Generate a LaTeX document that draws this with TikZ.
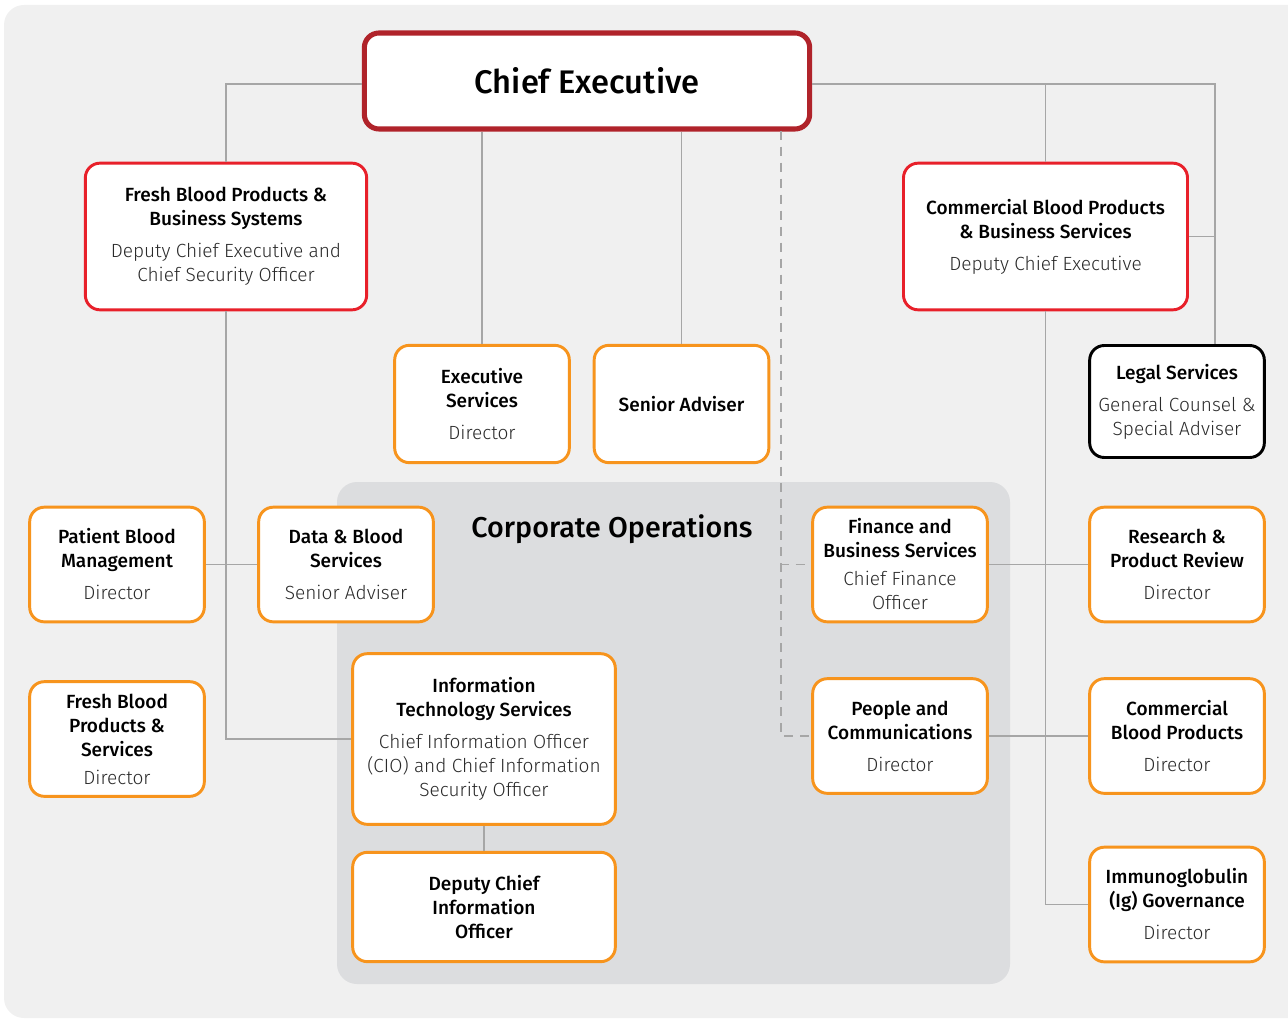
\documentclass[tikz,border=0pt]{standalone}
\usepackage{fontspec}
\setmainfont{Fira Sans}[BoldFont={Fira Sans Medium}]
\newfontfamily\lightfont{Fira Sans Light}
\usetikzlibrary{positioning}
\definecolor{ceored}{HTML}{B0232A}
\definecolor{deputyred}{HTML}{E8202A}
\definecolor{dirorange}{HTML}{F7941D}
\definecolor{linegray}{HTML}{A6A6A6}
\definecolor{panelgray}{HTML}{DCDDDF}
\definecolor{bggray}{HTML}{F0F0F0}
\definecolor{subtext}{HTML}{2A2A2A}

\begin{document}
\begin{tikzpicture}[
    x=0.75pt, y=-0.75pt,
    link/.style={draw=linegray, line width=0.9pt},
    dashlink/.style={link, dash pattern=on 7pt off 5pt},
    unit/.style={fill=white, rounded corners=11pt, align=center, inner sep=2pt,
        line width=2.2pt, font=\fontsize{14.3}{18}\selectfont},
    execbox/.style={unit, draw=ceored, line width=3.8pt},
    deputybox/.style={unit, draw=deputyred},
    dirbox/.style={unit, draw=dirorange},
    legalbox/.style={unit, draw=black},
    small/.style={minimum width=131pt, minimum height=86pt},
    wide/.style={minimum width=197pt},
    paneltitle/.style={font=\fontsize{21.5}{26}\selectfont\bfseries}
]

\useasboundingbox (0,0) rectangle (1288,1019);
\fill[bggray, rounded corners=15pt] (4,5) rectangle (1310,1018);
\fill[panelgray, rounded corners=15pt] (337,482) rectangle (1010,984);

\node[execbox, minimum width=334pt, minimum height=72pt,
    font=\fontsize{24.5}{30}\selectfont\bfseries] (chief) at (587,81) {Chief Executive};

\node[deputybox, minimum width=211pt, minimum height=110pt] (fbbs) at (226,236.5)
    {\bfseries Fresh Blood Products \&\\\bfseries Business Systems\\[6pt]
     {\lightfont\color{subtext}Deputy Chief Executive and}\\{\lightfont\color{subtext}Chief Security Officer}};
\node[deputybox, minimum width=213pt, minimum height=110pt] (cbpbs) at (1045.5,236.5)
    {\bfseries Commercial Blood Products\\\bfseries\& Business Services\\[6pt]
     {\lightfont\color{subtext}Deputy Chief Executive}};

\node[dirbox, small, minimum height=88pt] (execsvc) at (482,404)
    {\bfseries Executive\\\bfseries Services\\[6pt]{\lightfont\color{subtext}Director}};
\node[dirbox, small, minimum height=88pt] (senior) at (681.5,404) {\bfseries Senior Adviser};
\node[legalbox, small, minimum height=84pt] (legal) at (1177,401.5)
    {\bfseries Legal Services\\[6pt]{\lightfont\color{subtext}General Counsel \&}\\{\lightfont\color{subtext}Special Adviser}};

\node[paneltitle] (corptitle) at (612,529) {Corporate Operations};

\node[dirbox, small] (pbm) at (117,564.5)
    {\bfseries Patient Blood\\\bfseries Management\\[6pt]{\lightfont\color{subtext}Director}};
\node[dirbox, small] (datablood) at (346,564.5)
    {\bfseries Data \& Blood\\\bfseries Services\\[6pt]{\lightfont\color{subtext}Senior Adviser}};
\node[dirbox, small] (finance) at (900,564.5)
    {\bfseries Finance and\\\bfseries Business Services\\[3pt]{\lightfont\color{subtext}Chief Finance}\\{\lightfont\color{subtext}Officer}};
\node[dirbox, small] (research) at (1177,564.5)
    {\bfseries Research \&\\\bfseries Product Review\\[6pt]{\lightfont\color{subtext}Director}};

\node[dirbox, small] (fbps) at (117,739)
    {\bfseries Fresh Blood\\\bfseries Products \&\\\bfseries Services\\[3pt]{\lightfont\color{subtext}Director}};
\node[dirbox, wide, minimum height=128pt] (itsvc) at (484,739)
    {\bfseries Information\\\bfseries Technology Services\\[6pt]
     {\lightfont\color{subtext}Chief Information Officer}\\{\lightfont\color{subtext}(CIO) and Chief Information}\\{\lightfont\color{subtext}Security Officer}};
\node[dirbox, small] (people) at (900,736)
    {\bfseries People and\\\bfseries Communications\\[6pt]{\lightfont\color{subtext}Director}};
\node[dirbox, small] (cbp) at (1177,736)
    {\bfseries Commercial\\\bfseries Blood Products\\[6pt]{\lightfont\color{subtext}Director}};

\node[dirbox, wide, minimum height=82pt] (dcio) at (484,907)
    {\bfseries Deputy Chief\\\bfseries Information\\\bfseries Officer};
\node[dirbox, small] (ig) at (1177,904.5)
    {\bfseries Immunoglobulin\\\bfseries (Ig) Governance\\[6pt]{\lightfont\color{subtext}Director}};

\coordinate (rtrunk) at (1215,84);
\coordinate (dtop) at (781,131);

\draw[link] (chief.west |- rtrunk) -| (fbbs.north);
\draw[link] (fbbs.south) |- (itsvc.west);
\draw[link] (pbm.east) -- (datablood.west);
\draw[link] (chief.east |- rtrunk) -- (rtrunk) -- (rtrunk |- legal.north);
\draw[link] (cbpbs.east) -- (cbpbs.east -| rtrunk);
\draw[link] (cbpbs.north) -- (cbpbs.north |- rtrunk);
\draw[link] (execsvc.north) -- (execsvc.north |- chief.south);
\draw[link] (senior.north) -- (senior.north |- chief.south);
\draw[link] (cbpbs.south) |- (ig.west);
\draw[link] (finance.east) -- (research.west);
\draw[link] (people.east) -- (cbp.west);
\draw[link] (itsvc.south) -- (dcio.north);
\draw[dashlink] (dtop) |- (finance.west);
\draw[dashlink] (dtop) |- (people.west);

\end{tikzpicture}
\end{document}
